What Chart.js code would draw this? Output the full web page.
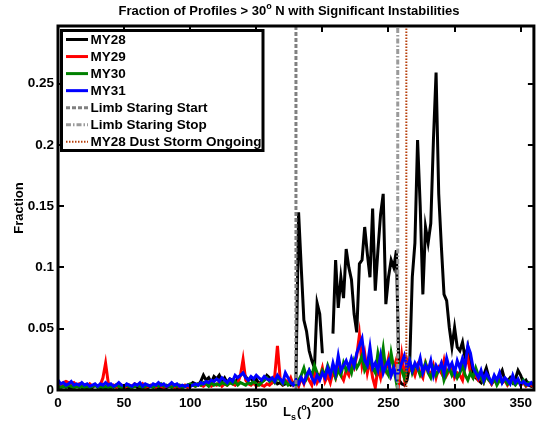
<!DOCTYPE html>
<html>
<head>
<meta charset="utf-8">
<script src="https://cdn.jsdelivr.net/npm/chart.js@4.4.1/dist/chart.umd.min.js"></script>
<style>
  html, body { margin: 0; padding: 0; background: #fff; }
</style>
</head>
<body>
<canvas id="myChart" width="537" height="429"></canvas>
<script>
// Ls bins, 2 degree steps from 0 to 360
const lsStep = 2;
const lsCount = 181;

const my28 = [
  0.003, 0.002, 0.003, 0.004, 0.002, 0.003, 0.002, 0.003, 0.004, 0.002,
  0.003, 0.002, 0.003, 0.002, 0.004, 0.003, 0.002, 0.003, 0.002, 0.003,
  0.002, 0.003, 0.004, 0.002, 0.003, 0.002, 0.003, 0.002, 0.003, 0.004,
  0.002, 0.003, 0.002, 0.003, 0.002, 0.003, 0.004, 0.002, 0.003, 0.002,
  0.003, 0.002, 0.003, 0.004, 0.003, 0.002, 0.003, 0.002, 0.003, 0.004,
  0.004, 0.006, 0.005, 0.004, 0.007, 0.012, 0.008, 0.010, 0.006, 0.011,
  0.009, 0.012, 0.007, 0.010, 0.006, 0.009, 0.008, 0.005, 0.010, 0.012,
  0.014, 0.011, 0.008, 0.010, 0.006, 0.009, 0.005, 0.007, 0.008, 0.012,
  0.010, 0.006, 0.008, 0.005, 0.006, 0.004, 0.005, 0.006, 0.004, 0.005,
  0.008, 0.145, 0.100, 0.057, 0.048, 0.032, 0.024, 0.018, 0.071, 0.062,
  0.030, null, null, null, 0.046, 0.106, 0.067, 0.092, 0.075, 0.115,
  0.100, 0.090, 0.062, 0.047, 0.103, 0.106, 0.133, 0.111, 0.092, 0.148,
  0.081, 0.114, 0.143, 0.160, 0.070, 0.092, 0.106, 0.100, 0.114, 0.008,
  0.005, 0.004, 0.008, 0.020, 0.092, 0.120, 0.204, 0.150, 0.078, 0.133,
  0.120, 0.136, 0.204, 0.259, 0.160, 0.117, 0.078, 0.073, 0.051, 0.035,
  0.051, 0.035, 0.032, 0.039, 0.026, 0.035, 0.020, 0.013, 0.010, 0.008,
  0.006, 0.012, 0.018, 0.010, 0.005, 0.008, 0.006, 0.012, 0.016, 0.008,
  0.007, 0.010, 0.006, 0.009, 0.016, 0.012, 0.006, 0.008, 0.004, 0.003,
  0.004
];

const my29 = [
  0.000, 0.004, 0.006, 0.007, 0.006, 0.005, 0.006, 0.004, 0.005, 0.003,
  0.004, 0.003, 0.005, 0.003, 0.004, 0.003, 0.004, 0.010, 0.022, 0.006,
  0.003, 0.004, 0.002, 0.003, 0.004, 0.002, 0.003, 0.004, 0.003, 0.005,
  0.004, 0.003, 0.005, 0.002, 0.003, 0.004, 0.003, 0.002, 0.004, 0.003,
  0.002, 0.003, 0.004, 0.003, 0.002, 0.003, 0.002, 0.003, 0.004, 0.002,
  0.003, 0.004, 0.003, 0.005, 0.004, 0.003, 0.005, 0.004, 0.003, 0.005,
  0.004, 0.006, 0.003, 0.005, 0.004, 0.006, 0.005, 0.004, 0.006, 0.012,
  0.025, 0.008, 0.005, 0.004, 0.006, 0.003, 0.005, 0.004, 0.003, 0.005,
  0.004, 0.006, 0.012, 0.036, 0.010, 0.005, 0.008, 0.006, 0.010, 0.004,
  0.006, 0.003, 0.010, 0.005, 0.012, 0.008, 0.004, 0.014, 0.006, 0.010,
  0.018, 0.007, 0.012, 0.006, 0.015, 0.010, 0.020, 0.012, 0.008, 0.016,
  0.012, 0.022, 0.018, 0.028, 0.045, 0.020, 0.030, 0.014, 0.024, 0.010,
  0.002, 0.018, 0.010, 0.022, 0.016, 0.026, 0.012, 0.018, 0.025, 0.008,
  0.028, 0.010, 0.024, 0.016, 0.018, 0.012, 0.020, 0.014, 0.010, 0.022,
  0.016, 0.012, 0.020, 0.010, 0.018, 0.014, 0.024, 0.012, 0.016, 0.020,
  0.010, 0.014, 0.012, 0.008, 0.020, 0.026, 0.014, 0.010, 0.012, 0.008,
  0.010, 0.006, 0.012, 0.008, 0.005, 0.010, 0.007, 0.012, 0.006, 0.008,
  0.004, 0.007, 0.010, 0.005, 0.008, 0.004, 0.006, 0.003, 0.005, 0.004,
  0.003
];

const my30 = [
  0.003, 0.002, 0.003, 0.002, 0.004, 0.003, 0.002, 0.003, 0.002, 0.003,
  0.002, 0.003, 0.002, 0.003, 0.004, 0.002, 0.003, 0.002, 0.003, 0.002,
  0.003, 0.002, 0.004, 0.003, 0.002, 0.003, 0.004, 0.003, 0.002, 0.003,
  0.004, 0.003, 0.002, 0.003, 0.004, 0.003, 0.002, 0.004, 0.003, 0.005,
  0.003, 0.004, 0.003, 0.002, 0.004, 0.003, 0.004, 0.002, 0.003, 0.004,
  0.005, 0.004, 0.003, 0.005, 0.004, 0.006, 0.005, 0.003, 0.006, 0.004,
  0.005, 0.004, 0.006, 0.005, 0.004, 0.006, 0.005, 0.007, 0.004, 0.006,
  0.005, 0.004, 0.006, 0.005, 0.007, 0.005, 0.004, 0.006, 0.008, 0.010,
  0.007, 0.009, 0.006, 0.010, 0.008, 0.005, 0.007, 0.004, 0.006, 0.005,
  0.004, 0.008, 0.012, 0.018, 0.010, 0.016, 0.012, 0.020, 0.014, 0.010,
  0.016, 0.012, 0.020, 0.014, 0.018, 0.010, 0.016, 0.012, 0.022, 0.016,
  0.020, 0.014, 0.024, 0.018, 0.022, 0.028, 0.016, 0.020, 0.024, 0.018,
  0.014, 0.030, 0.020, 0.034, 0.016, 0.012, 0.030, 0.018, 0.006, 0.020,
  0.016, 0.010, 0.018, 0.024, 0.014, 0.020, 0.018, 0.012, 0.016, 0.022,
  0.014, 0.010, 0.018, 0.012, 0.016, 0.020, 0.008, 0.014, 0.018, 0.012,
  0.016, 0.010, 0.014, 0.020, 0.012, 0.008, 0.014, 0.010, 0.018, 0.012,
  0.010, 0.006, 0.012, 0.008, 0.006, 0.010, 0.004, 0.008, 0.006, 0.009,
  0.005, 0.008, 0.006, 0.004, 0.007, 0.005, 0.008, 0.004, 0.006, 0.005,
  0.006
];

const my31 = [
  0.008, 0.005, 0.006, 0.004, 0.005, 0.007, 0.004, 0.005, 0.004, 0.006,
  0.004, 0.005, 0.003, 0.004, 0.005, 0.003, 0.005, 0.004, 0.006, 0.004,
  0.005, 0.003, 0.004, 0.006, 0.004, 0.003, 0.005, 0.004, 0.003, 0.005,
  0.004, 0.006, 0.003, 0.005, 0.004, 0.003, 0.005, 0.004, 0.006, 0.004,
  0.005, 0.003, 0.004, 0.006, 0.004, 0.005, 0.003, 0.004, 0.003, 0.004,
  0.003, 0.004, 0.005, 0.004, 0.006, 0.005, 0.007, 0.006, 0.008, 0.007,
  0.009, 0.007, 0.010, 0.008, 0.006, 0.009, 0.007, 0.012, 0.010, 0.012,
  0.014, 0.010, 0.008, 0.011, 0.009, 0.012, 0.010, 0.008, 0.011, 0.009,
  0.008, 0.010, 0.007, 0.012, 0.009, 0.006, 0.014, 0.010, 0.006, 0.004,
  0.008, 0.005, 0.010, 0.006, 0.012, 0.016, 0.010, 0.006, 0.012, 0.008,
  0.014, 0.010, 0.018, 0.012, 0.022, 0.014, 0.028, 0.016, 0.020, 0.024,
  0.018, 0.026, 0.020, 0.030, 0.036, 0.042, 0.024, 0.020, 0.035, 0.018,
  0.022, 0.016, 0.028, 0.014, 0.020, 0.024, 0.012, 0.018, 0.010, 0.016,
  0.022, 0.028, 0.018, 0.024, 0.016, 0.022, 0.018, 0.026, 0.014, 0.020,
  0.016, 0.024, 0.012, 0.020, 0.016, 0.022, 0.014, 0.026, 0.018, 0.022,
  0.014, 0.024, 0.018, 0.026, 0.020, 0.036, 0.030, 0.018, 0.014, 0.010,
  0.016, 0.008, 0.014, 0.010, 0.006, 0.012, 0.008, 0.014, 0.006, 0.010,
  0.008, 0.005, 0.012, 0.006, 0.009, 0.004, 0.007, 0.005, 0.004, 0.006,
  0.004
];

// vertical marker lines (Ls)
const limbStart = 180;
const limbStop = 257;
const dustStorm = 263.5;

const xTicks = [0, 50, 100, 150, 200, 250, 300, 350];
const yTicks = [0, 0.05, 0.1, 0.15, 0.2, 0.25];
const yMax = 0.297;

const seriesNames = ["MY28", "MY29", "MY30", "MY31"];
const seriesColors = ["#000000", "#ff0000", "#008000", "#0000ff"];

const ls = [];
for (let i = 0; i < lsCount; i++) ls.push(i * lsStep);

const toPoints = (vals) => ls.map((x, i) => ({ x: x, y: vals[i] }));

const FONT = '"Liberation Sans", Arial, Helvetica, sans-serif';

const markers = [
  { label: "Limb Staring Start", at: limbStart, color: "#808080", width: 3, dash: [4, 2] },
  { label: "Limb Staring Stop", at: limbStop, color: "#9a9a9a", width: 3, dash: [5, 2, 1.5, 2] },
  { label: "MY28 Dust Storm Ongoing", at: dustStorm, color: "#b8400c", width: 2, dash: [1.5, 1.5] },
];

const legendItems = [
  { label: "MY28", color: "#000000", width: 3, dash: [] },
  { label: "MY29", color: "#ff0000", width: 3, dash: [] },
  { label: "MY30", color: "#008000", width: 3, dash: [] },
  { label: "MY31", color: "#0000ff", width: 3, dash: [] },
].concat(markers);

const decorations = {
  id: "decorations",
  afterDatasetsDraw(chart) {
    // vertical marker lines, placed with the x scale
    const { ctx, chartArea: a, scales } = chart;
    ctx.save();
    ctx.beginPath();
    ctx.rect(a.left, a.top, a.right - a.left, a.bottom - a.top);
    ctx.clip();
    markers.forEach((m) => {
      const px = scales.x.getPixelForValue(m.at);
      ctx.strokeStyle = m.color;
      ctx.lineWidth = m.width;
      ctx.setLineDash(m.dash);
      ctx.beginPath();
      ctx.moveTo(px, scales.y.getPixelForValue(0));
      ctx.lineTo(px, scales.y.getPixelForValue(yMax));
      ctx.stroke();
    });
    ctx.restore();
  },
  afterDraw(chart) {
    const { ctx, chartArea: a, scales } = chart;
    ctx.save();
    ctx.strokeStyle = "#000";
    ctx.lineWidth = 2;
    ctx.setLineDash([]);
    // inward tick marks on all four sides
    ctx.beginPath();
    xTicks.forEach((v) => {
      const px = Math.round(scales.x.getPixelForValue(v));
      ctx.moveTo(px, a.bottom); ctx.lineTo(px, a.bottom - 6);
      ctx.moveTo(px, a.top); ctx.lineTo(px, a.top + 6);
    });
    yTicks.forEach((v) => {
      const py = Math.round(scales.y.getPixelForValue(v));
      ctx.moveTo(a.left, py); ctx.lineTo(a.left + 6, py);
      ctx.moveTo(a.right, py); ctx.lineTo(a.right - 6, py);
    });
    ctx.stroke();
    // box
    ctx.lineWidth = 3;
    ctx.strokeRect(a.left, a.top, a.right - a.left, a.bottom - a.top);

    // legend
    const lx = 61.5, ly = 30.5, lw = 201.5, lh = 120;
    ctx.fillStyle = "#fff";
    ctx.fillRect(lx, ly, lw, lh);
    ctx.lineWidth = 3;
    ctx.strokeRect(lx, ly, lw, lh);
    ctx.font = "bold 13.5px " + FONT;
    ctx.textBaseline = "middle";
    ctx.textAlign = "left";
    legendItems.forEach((it, i) => {
      const y = 39.5 + i * 17.05;
      ctx.strokeStyle = it.color;
      ctx.lineWidth = it.width;
      ctx.setLineDash(it.dash);
      ctx.beginPath();
      ctx.moveTo(66, y); ctx.lineTo(88, y);
      ctx.stroke();
      ctx.fillStyle = "#000";
      ctx.fillText(it.label, 90.5, y + 0.5);
    });
    ctx.setLineDash([]);

    // title with superscript
    ctx.fillStyle = "#000";
    ctx.textBaseline = "alphabetic";
    const t1 = "Fraction of Profiles > 30", t2 = "o", t3 = " N with Significant Instabilities";
    const big = "bold 13px " + FONT, small = "bold 9px " + FONT;
    ctx.font = big; const w1 = ctx.measureText(t1).width; const w3 = ctx.measureText(t3).width;
    ctx.font = small; const w2 = ctx.measureText(t2).width;
    let tx = 289 - (w1 + w2 + w3) / 2;
    ctx.font = big; ctx.fillText(t1, tx, 15);
    ctx.font = small; ctx.fillText(t2, tx + w1, 9);
    ctx.font = big; ctx.fillText(t3, tx + w1 + w2, 15);

    // x axis label L_s(°)
    ctx.font = big; ctx.fillText("L", 283, 416);
    ctx.font = small; ctx.fillText("s", 291, 420);
    ctx.font = big; ctx.fillText("(", 297, 416);
    const wp = ctx.measureText("(").width;
    ctx.font = small; ctx.fillText("o", 297 + wp, 410);
    const wo = ctx.measureText("o").width;
    ctx.font = big; ctx.fillText(")", 297 + wp + wo, 416);

    // y axis label
    ctx.save();
    ctx.translate(19, 208);
    ctx.rotate(-Math.PI / 2);
    ctx.textAlign = "center";
    ctx.textBaseline = "middle";
    ctx.font = big;
    ctx.fillText("Fraction", 0, 0);
    ctx.restore();
    ctx.restore();
  },
};

const ctx = document.getElementById("myChart");
const lineDs = (label, pts, color, order) => ({
  label: label,
  data: pts,
  borderColor: color,
  borderWidth: 3,
  pointRadius: 0,
  fill: false,
  tension: 0,
  spanGaps: false,
  order: order,
});

var myChart = new Chart(ctx, {
  type: "line",
  data: {
    datasets: [
      lineDs(seriesNames[0], toPoints(my28), seriesColors[0], 4),
      lineDs(seriesNames[1], toPoints(my29), seriesColors[1], 3),
      lineDs(seriesNames[2], toPoints(my30), seriesColors[2], 2),
      lineDs(seriesNames[3], toPoints(my31), seriesColors[3], 1),
    ],
  },
  options: {
    responsive: false,
    animation: false,
    layout: { padding: { top: 26, right: 2, left: 0, bottom: 0 } },
    plugins: {
      legend: { display: false },
      title: { display: false },
      tooltip: { enabled: false },
    },
    scales: {
      x: {
        type: "linear",
        min: 0,
        max: 360,
        grid: { display: false, drawTicks: false },
        border: { display: false },
        afterFit: (scale) => { scale.height = 39; },
        afterBuildTicks: (scale) => { scale.ticks = xTicks.map((v) => ({ value: v })); },
        ticks: {
          color: "#000",
          padding: 5,
          maxRotation: 0,
          font: { family: FONT, size: 13.5, weight: "bold" },
        },
      },
      y: {
        type: "linear",
        min: 0,
        max: yMax,
        grid: { display: false, drawTicks: false },
        border: { display: false },
        afterFit: (scale) => { scale.width = 58; },
        afterBuildTicks: (scale) => { scale.ticks = yTicks.map((v) => ({ value: v })); },
        ticks: {
          color: "#000",
          padding: 4,
          font: { family: FONT, size: 13.5, weight: "bold" },
          callback: (v) => String(v),
        },
      },
    },
  },
  plugins: [decorations],
});
</script>
</body>
</html>
